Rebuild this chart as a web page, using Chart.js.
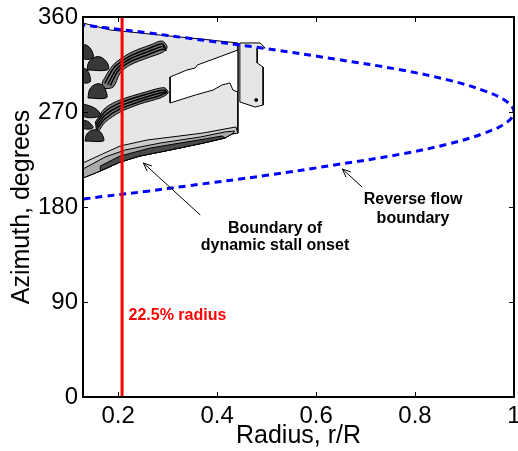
<!DOCTYPE html>
<html>
<head>
<meta charset="utf-8">
<script src="https://cdn.jsdelivr.net/npm/chart.js@4.4.0/dist/chart.umd.min.js"></script>
<style>
  html, body { margin: 0; padding: 0; background: #fff; }
</style>
</head>
<body>
<canvas id="stall-chart" width="518" height="451"></canvas>
<script>
// axis ticks
const radiusTicks = [0.2, 0.4, 0.6, 0.8, 1];
const azimuthTicks = [0, 90, 180, 270, 360];

// reverse flow boundary (dashed blue)
const reverseR   = [0.13, 0.17, 0.26, 0.34, 0.50, 0.64, 0.77, 0.87, 0.94, 0.985, 1.0, 0.985, 0.94, 0.87, 0.77, 0.64, 0.50, 0.34, 0.26, 0.17, 0.13];
const reversePsi = [187.5, 190, 195, 200, 210, 220, 230, 240, 250, 260, 270, 280, 290, 300, 310, 320, 330, 340, 345, 350, 352.5];

// 22.5% radius marker
const markerR   = [0.208, 0.208];
const markerPsi = [0, 360];

// dynamic stall region outline
const stallR   = [0.129, 0.184, 0.285, 0.386, 0.442, 0.442, 0.430, 0.416, 0.372, 0.305, 0.244, 0.204, 0.164, 0.129];
const stallPsi = [354.3, 347.7, 342.9, 338.2, 335.4, 250.1, 249.2, 245.4, 240.6, 234.0, 228.3, 222.6, 214.1, 207.5];

// attached pocket inside the region
const notchR   = [0.442, 0.360, 0.356, 0.339, 0.305, 0.305, 0.356, 0.392, 0.410, 0.426, 0.432, 0.442];
const notchPsi = [328.7, 314.5, 311.7, 309.8, 303.2, 278.5, 286.1, 290.8, 295.6, 297.5, 290.8, 288.9];

// small patch outboard, with its isolated point
const tabR   = [0.446, 0.487, 0.497, 0.481, 0.481, 0.493, 0.493, 0.477, 0.446];
const tabPsi = [335.4, 335.4, 330.6, 330.6, 316.4, 312.6, 276.6, 274.7, 279.5];
const dotR   = [0.479];
const dotPsi = [281.4];

// contour bands near the onset boundary
const bandAR   = [0.129, 0.164, 0.204, 0.259, 0.325, 0.372, 0.426, 0.438, 0.442, 0.430, 0.416, 0.372, 0.305, 0.244, 0.204, 0.164, 0.129];
const bandAPsi = [221.7, 229.3, 237.8, 243.5, 247.3, 250.1, 254.8, 255.8, 250.1, 249.2, 245.4, 240.6, 234.0, 228.3, 222.6, 214.1, 207.5];
const bandBR   = [0.129, 0.174, 0.214, 0.285, 0.366, 0.416, 0.436, 0.430, 0.416, 0.372, 0.305, 0.244, 0.204, 0.164, 0.129];
const bandBPsi = [216.0, 227.4, 234.0, 240.6, 246.3, 251.1, 252.0, 249.2, 245.4, 240.6, 234.0, 228.3, 222.6, 214.1, 207.5];
const bandCR   = [0.164, 0.204, 0.265, 0.325, 0.376, 0.410, 0.416, 0.372, 0.305, 0.244, 0.204, 0.164];
const bandCPsi = [218.8, 228.3, 235.9, 240.6, 244.5, 247.3, 245.4, 240.6, 234.0, 228.3, 222.6, 214.1];

// dense contour fingers (outline + inner contour lines)
const f1R   = [0.168, 0.190, 0.224, 0.265, 0.289, 0.299, 0.291, 0.259, 0.224, 0.204, 0.190, 0.170];
const f1Psi = [298.4, 314.5, 325.9, 333.5, 337.3, 331.6, 326.8, 321.2, 314.5, 306.9, 293.7, 292.7];
const f1LinesR = [
    [0.173, 0.193, 0.224, 0.263, 0.289, 0.295],
    [0.179, 0.197, 0.224, 0.262, 0.290, 0.297],
    [0.184, 0.200, 0.224, 0.260, 0.290, 0.298]
];
const f1LinesPsi = [
    [297.2, 312.6, 323.0, 330.4, 334.7, 331.0],
    [296.0, 310.7, 320.2, 327.4, 332.0, 329.5],
    [294.9, 308.8, 317.4, 324.3, 329.4, 328.2]
];
const f2R   = [0.154, 0.174, 0.204, 0.255, 0.285, 0.295, 0.301, 0.285, 0.244, 0.204, 0.174, 0.158];
const f2Psi = [260.5, 273.8, 281.4, 288.9, 292.7, 292.7, 288.0, 283.3, 277.6, 270.0, 260.5, 251.1];
const f2LinesR = [
    [0.155, 0.174, 0.204, 0.252, 0.285, 0.297],
    [0.156, 0.174, 0.204, 0.250, 0.285, 0.298],
    [0.157, 0.174, 0.204, 0.247, 0.285, 0.299]
];
const f2LinesPsi = [
    [258.2, 270.5, 278.6, 286.1, 290.4, 290.6],
    [255.8, 267.2, 275.7, 283.3, 288.0, 289.5],
    [253.5, 263.8, 272.9, 280.4, 285.6, 288.6]
];

// small dark mounds along the root
const moundR = [
    [0.129, 0.139, 0.147, 0.149, 0.129],
    [0.137, 0.141, 0.154, 0.168, 0.180, 0.178],
    [0.129, 0.137, 0.143, 0.143, 0.129],
    [0.139, 0.143, 0.156, 0.168, 0.176, 0.176],
    [0.129, 0.143, 0.158, 0.164, 0.129],
    [0.129, 0.141, 0.149, 0.129],
    [0.133, 0.137, 0.149, 0.162, 0.170, 0.170]
];
const moundPsi = [
    [334.4, 332.5, 327.8, 321.2, 321.2],
    [309.8, 317.4, 322.1, 321.2, 314.5, 309.8],
    [311.7, 309.8, 304.1, 298.4, 298.4],
    [283.3, 291.8, 296.5, 295.6, 288.9, 283.3],
    [277.6, 275.7, 271.9, 266.2, 266.2],
    [262.4, 260.5, 254.8, 254.8],
    [242.5, 249.2, 253.0, 252.0, 246.3, 242.5]
];

const FONT = '"Liberation Sans", Arial, sans-serif';
Chart.defaults.font.family = FONT;
Chart.defaults.color = '#000';

function toPoints(xs, ys) {
    return xs.map((x, i) => ({ x: x, y: ys[i] }));
}

function region(label, xs, ys, color, order, tension) {
    const pts = toPoints(xs, ys);
    pts.push(pts[0]);
    return {
        label: label,
        data: pts,
        showLine: true,
        fill: 'shape',
        backgroundColor: color,
        borderColor: '#000',
        borderWidth: 1,
        pointRadius: 0,
        tension: tension || 0,
        order: order
    };
}

function contour(label, xs, ys, order) {
    return {
        label: label,
        data: toPoints(xs, ys),
        showLine: true,
        borderColor: '#000',
        borderWidth: 1.5,
        pointRadius: 0,
        tension: 0.3,
        order: order
    };
}

const datasets = [
    {
        label: '22.5% radius',
        data: toPoints(markerR, markerPsi),
        showLine: true,
        borderColor: '#ff0000',
        borderWidth: 3,
        pointRadius: 0,
        order: 1
    },
    {
        label: 'Reverse flow boundary',
        data: toPoints(reverseR, reversePsi),
        showLine: true,
        borderColor: '#0000ff',
        borderWidth: 3,
        borderDash: [7, 5],
        pointRadius: 0,
        tension: 0.4,
        order: 2
    },
    region('stall', stallR, stallPsi, '#e6e6e6', 30),
    region('band A', bandAR, bandAPsi, '#cdcdcd', 29),
    region('band B', bandBR, bandBPsi, '#ababab', 28),
    region('band C', bandCR, bandCPsi, '#4a4a4a', 27),
    region('pocket', notchR, notchPsi, '#ffffff', 26),
    region('patch', tabR, tabPsi, '#e6e6e6', 26),
    {
        label: 'patch point',
        data: toPoints(dotR, dotPsi),
        pointRadius: 1.5,
        backgroundColor: '#000',
        borderColor: '#000',
        order: 20
    },
    region('finger 1', f1R, f1Psi, '#7a7a7a', 25, 0.3),
    region('finger 2', f2R, f2Psi, '#7a7a7a', 25, 0.3)
];
f1LinesR.forEach((xs, i) => datasets.push(contour('finger 1 line', xs, f1LinesPsi[i], 24)));
f2LinesR.forEach((xs, i) => datasets.push(contour('finger 2 line', xs, f2LinesPsi[i], 24)));
moundR.forEach((xs, i) => {
    datasets.push(region('mound ' + (i + 1), xs, moundPsi[i], '#383838', 23, 0.4));
});

// labels, arrows and the boxed frame with inward ticks
const plotDecor = {
    id: 'plotDecor',
    afterDatasetsDraw(chart) {
        const { ctx, chartArea: a } = chart;
        const x = chart.scales.x, y = chart.scales.y;
        const px = v => x.getPixelForValue(v);
        const py = v => y.getPixelForValue(v);
        ctx.save();

        ctx.textAlign = 'center';
        ctx.textBaseline = 'alphabetic';
        ctx.font = 'bold 16px ' + FONT;
        ctx.fillStyle = '#000';
        ctx.fillText('Boundary of', px(0.517), py(155.4));
        ctx.fillText('dynamic stall onset', px(0.517), py(139.7));
        ctx.fillText('Reverse flow', px(0.796), py(182.4));
        ctx.fillText('boundary', px(0.796), py(165.3));
        ctx.fillStyle = '#ff0000';
        ctx.textAlign = 'left';
        ctx.fillText('22.5% radius', px(0.221), py(73.0));

        const arrow = (x0, y0, x1, y1) => {
            const sx = px(x0), sy = py(y0), ex = px(x1), ey = py(y1);
            const ang = Math.atan2(ey - sy, ex - sx);
            ctx.strokeStyle = '#000';
            ctx.lineWidth = 1;
            ctx.beginPath();
            ctx.moveTo(sx, sy);
            ctx.lineTo(ex, ey);
            ctx.moveTo(ex - 9 * Math.cos(ang - 0.4), ey - 9 * Math.sin(ang - 0.4));
            ctx.lineTo(ex, ey);
            ctx.lineTo(ex - 9 * Math.cos(ang + 0.4), ey - 9 * Math.sin(ang + 0.4));
            ctx.stroke();
        };
        arrow(0.366, 172.4, 0.251, 221.7);
        arrow(0.693, 199.0, 0.653, 216.0);

        ctx.strokeStyle = '#000';
        ctx.lineWidth = 2;
        ctx.strokeRect(a.left, a.top, a.right - a.left, a.bottom - a.top);
        ctx.lineWidth = 1;
        ctx.beginPath();
        radiusTicks.forEach(v => {
            const p = Math.round(px(v)) + 0.5;
            ctx.moveTo(p, a.bottom); ctx.lineTo(p, a.bottom - 5);
            ctx.moveTo(p, a.top); ctx.lineTo(p, a.top + 5);
        });
        azimuthTicks.forEach(v => {
            const p = Math.round(py(v)) + 0.5;
            ctx.moveTo(a.left, p); ctx.lineTo(a.left + 5, p);
            ctx.moveTo(a.right, p); ctx.lineTo(a.right - 5, p);
        });
        ctx.stroke();
        ctx.restore();
    }
};

new Chart(document.getElementById('stall-chart').getContext('2d'), {
    type: 'scatter',
    data: { datasets: datasets },
    options: {
        responsive: false,
        animation: false,
        layout: { padding: { top: 17, right: 4, left: 0, bottom: 0 }, autoPadding: false },
        plugins: { legend: { display: false }, tooltip: { enabled: false } },
        scales: {
            x: {
                type: 'linear',
                min: 0.129,
                max: 1,
                afterBuildTicks: s => { s.ticks = radiusTicks.map(v => ({ value: v })); },
                afterFit: s => { s.height = 54; s.paddingLeft = 0; s.paddingRight = 0; },
                grid: { display: false, drawTicks: false },
                border: { display: false },
                ticks: { font: { size: 24 }, padding: 5, maxRotation: 0, callback: v => String(v) },
                title: { display: true, text: 'Radius, r/R', font: { size: 25 }, padding: 0 }
            },
            y: {
                type: 'linear',
                min: 0,
                max: 360,
                afterBuildTicks: s => { s.ticks = azimuthTicks.map(v => ({ value: v })); },
                afterFit: s => { s.width = 83; s.paddingTop = 0; s.paddingBottom = 0; },
                grid: { display: false, drawTicks: false },
                border: { display: false },
                ticks: { font: { size: 24 }, padding: 5, callback: v => String(v) },
                title: { display: true, text: 'Azimuth, degrees', font: { size: 25 }, padding: { top: 7, bottom: 0 } }
            }
        }
    },
    plugins: [plotDecor]
});
</script>
</body>
</html>
